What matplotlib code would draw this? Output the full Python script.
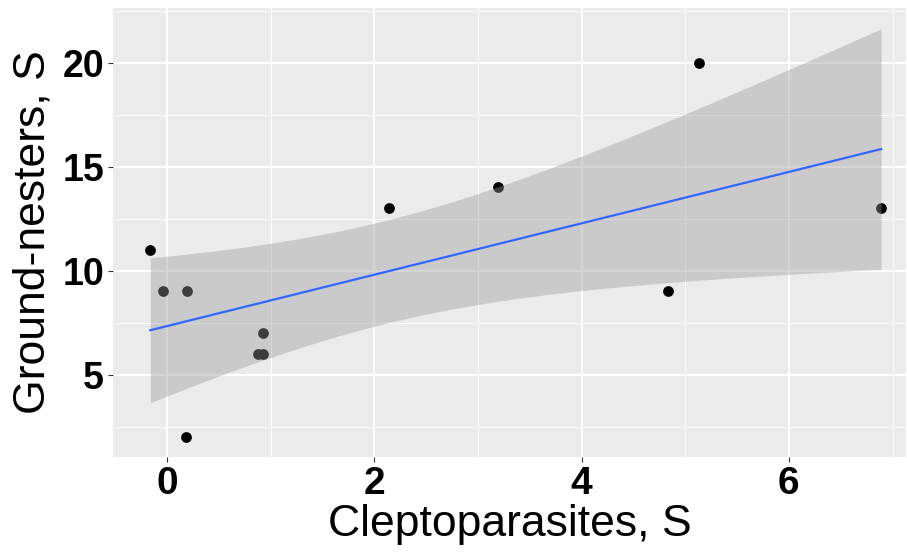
import numpy as np
import matplotlib
matplotlib.use("Agg")
import matplotlib.pyplot as plt

# cleptoparasite vs ground-nester species richness per site (x jittered)
clepto = [-0.16, -0.04, 0.19, 0.18, 0.93, 0.88, 0.93, 2.14, 3.19, 4.83, 5.13, 6.89]
ground = [11, 9, 9, 2, 7, 6, 6, 13, 14, 9, 20, 13]

x_ticks = [0, 2, 4, 6]
y_ticks = [5, 10, 15, 20]

plt.rcParams['font.family'] = ['Liberation Sans', 'DejaVu Sans']

x = np.array(clepto)
y = np.array(ground)
n = len(x)

# linear fit with 95% confidence band (t quantile for df = 10)
slope, intercept = np.polyfit(x, y, 1)
resid = y - (intercept + slope * x)
s = np.sqrt(np.sum(resid ** 2) / (n - 2))
sxx = np.sum((x - x.mean()) ** 2)
t_crit = 2.228
xs = np.linspace(x.min(), x.max(), 80)
fit = intercept + slope * xs
se = s * np.sqrt(1.0 / n + (xs - x.mean()) ** 2 / sxx)

fig = plt.figure(figsize=(9.07, 5.53), dpi=100)
ax = fig.add_axes([113 / 907, 96 / 553, 793 / 907, 449 / 553])
ax.set_facecolor('#EBEBEB')
for sp in ax.spines.values():
    sp.set_visible(False)

ax.scatter(x, y, s=60, color='black', zorder=3, linewidths=0)
ax.fill_between(xs, fit - t_crit * se, fit + t_crit * se,
                color='#999999', alpha=0.4, linewidth=0, zorder=4)
ax.plot(xs, fit, color='#3366FF', linewidth=1.6, zorder=5)

ax.set_xlim(-0.52, 7.13)
ax.set_ylim(1.04, 22.63)
ax.set_xticks(x_ticks)
ax.set_yticks(y_ticks)
ax.set_xticks([1, 3, 5, 7], minor=True)
ax.set_yticks([2.5, 7.5, 12.5, 17.5, 22.5], minor=True)
ax.grid(which='major', color='white', linewidth=1.4, zorder=0)
ax.grid(which='minor', color='white', linewidth=0.7, zorder=0)
ax.set_axisbelow(True)

ax.tick_params(which='major', length=3.5, width=0.8, color='#333333', pad=3)
ax.tick_params(axis='x', labelsize=28)
ax.tick_params(axis='y', labelsize=27)
ax.tick_params(which='minor', length=0)
for lab in ax.get_xticklabels() + ax.get_yticklabels():
    lab.set_fontweight('bold')

ax.set_xlabel('Cleptoparasites, S', fontsize=32)
ax.set_ylabel('Ground-nesters, S', fontsize=32)
ax.xaxis.set_label_coords(0.5, -0.105)
ax.yaxis.set_label_coords(-0.075, 0.5)

fig.savefig('out.png', dpi=100, facecolor='white')
